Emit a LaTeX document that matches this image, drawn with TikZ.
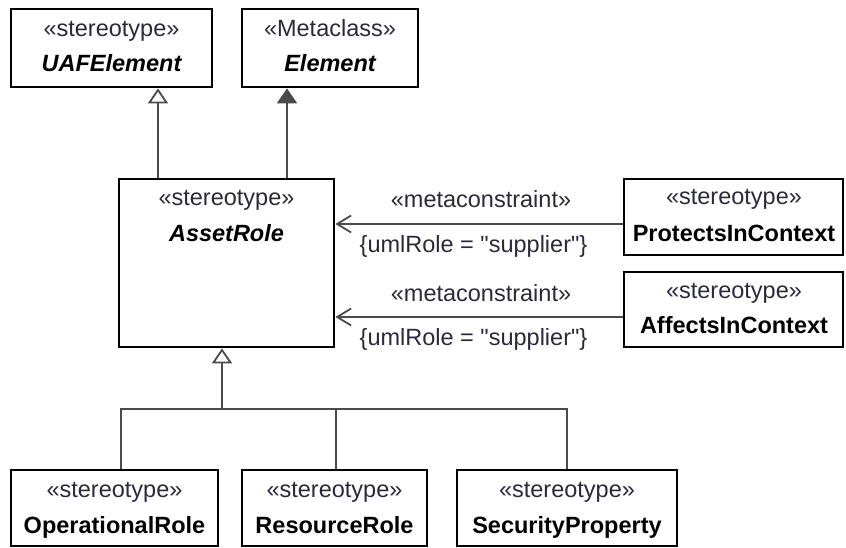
\documentclass[tikz,border=0pt]{standalone}
\usepackage{fontspec}
\setmainfont{Liberation Sans}
\usetikzlibrary{arrows.meta}
\definecolor{linegray}{HTML}{4A4A4A}
\definecolor{stereo}{HTML}{2A2A3A}
\begin{document}
\begin{tikzpicture}[x=1pt,y=-1pt,
  umlbox/.style={draw=black,line width=2.8pt,fill=white,inner sep=0pt},
  txt/.style={anchor=base,inner sep=0pt,font=\fontsize{23.5}{28}\selectfont},
  stereotxt/.style={txt,text=stereo},
  nametxt/.style={txt,text=black,font=\fontsize{23.5}{28}\selectfont\bfseries},
  abstxt/.style={txt,text=black,font=\fontsize{23.5}{28}\selectfont\bfseries\itshape},
  conn/.style={draw=linegray,line width=2pt},
  genarrow/.style={conn,-{Triangle[open,length=15pt,width=20pt,line width=1.8pt,fill=white]}},
  metaarrow/.style={conn,-{Triangle[length=15pt,width=20pt]}},
  deparrow/.style={conn,-{Straight Barb[length=14pt,width=17pt,line width=1.8pt]}}
]
\useasboundingbox (0,0) rectangle (846,548);
% boxes
\node[umlbox,minimum width=201pt,minimum height=78pt] (uaf) at (111.5,48) {};
\node[umlbox,minimum width=176pt,minimum height=78pt] (elem) at (330,48) {};
\node[umlbox,minimum width=215pt,minimum height=168pt] (asset) at (226.5,263) {};
\node[umlbox,minimum width=219pt,minimum height=76pt] (prot) at (733.5,217) {};
\node[umlbox,minimum width=219pt,minimum height=75pt] (aff) at (733.5,309.5) {};
\node[umlbox,minimum width=207pt,minimum height=76pt] (oper) at (114.5,508) {};
\node[umlbox,minimum width=185pt,minimum height=76pt] (res) at (334.5,508) {};
\node[umlbox,minimum width=220pt,minimum height=76pt] (sec) at (567,508) {};
% texts
\node[stereotxt] (uafs) at (111.5,36.5) {«stereotype»};
\node[abstxt] (uafn) at (111.5,71.5) {UAFElement};
\node[stereotxt] (elems) at (330,36.5) {«Metaclass»};
\node[abstxt] (elemn) at (330,71.5) {Element};
\node[stereotxt] (assets) at (226.5,206) {«stereotype»};
\node[abstxt] (assetn) at (226.5,241) {AssetRole};
\node[stereotxt] (prots) at (734,205) {«stereotype»};
\node[nametxt] (protn) at (734,242) {ProtectsInContext};
\node[stereotxt] (affs) at (734,298) {«stereotype»};
\node[nametxt] (affn) at (734,333) {AffectsInContext};
\node[stereotxt] (opers) at (114.5,497) {«stereotype»};
\node[nametxt] (opern) at (114.5,533) {OperationalRole};
\node[stereotxt] (ress) at (334.5,497) {«stereotype»};
\node[nametxt] (resn) at (334.5,533) {ResourceRole};
\node[stereotxt] (secs) at (567,497) {«stereotype»};
\node[nametxt] (secn) at (567,533) {SecurityProperty};
\node[stereotxt] (mc1) at (481,208) {«metaconstraint»};
\node[stereotxt] (uml1) at (473.5,252) {\{umlRole = \textquotedbl supplier\textquotedbl\}};
\node[stereotxt] (mc2) at (481,301) {«metaconstraint»};
\node[stereotxt] (uml2) at (473.5,345) {\{umlRole = \textquotedbl supplier\textquotedbl\}};
% helper coordinates
\coordinate (xa) at (158,0);
\coordinate (xb) at (287,0);
\coordinate (ya) at (0,224);
\coordinate (yb) at (0,317);
\coordinate (bar) at (222,409);
\coordinate (c1) at (121,409);
\coordinate (c2) at (336,409);
\coordinate (c3) at (567,409);
% connectors
\draw[genarrow] (asset.north -| xa) -- (uaf.south -| xa);
\draw[metaarrow] (asset.north -| xb) -- (elem.south -| xb);
\draw[deparrow] (prot.west |- ya) -- (asset.east |- ya);
\draw[deparrow] (aff.west |- yb) -- (asset.east |- yb);
\draw[genarrow] (bar) -- (asset.south -| bar);
\draw[conn] (oper.north -| c1) -- (c1) -- (c3) -- (sec.north -| c3);
\draw[conn] (c2) -- (res.north -| c2);
\end{tikzpicture}
\end{document}
